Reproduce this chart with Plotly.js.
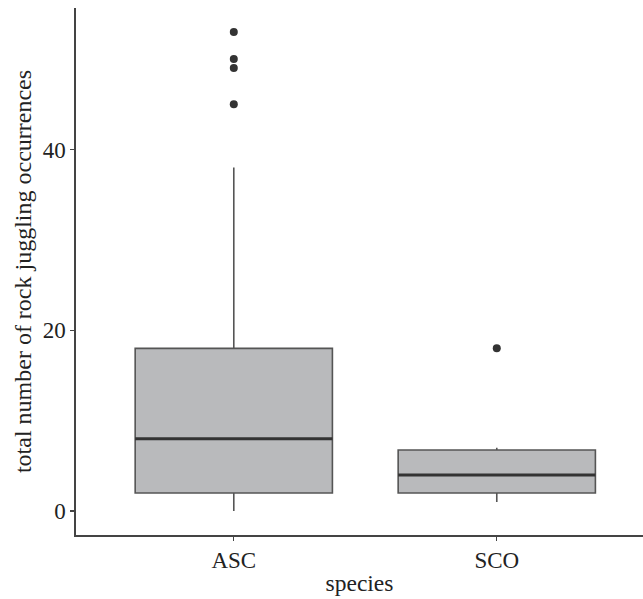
<!DOCTYPE html>
<html>
<head>
<meta charset="utf-8">
<script src="https://cdn.plot.ly/plotly-3.0.1.min.js"></script>
<style>html,body{margin:0;padding:0;background:#fff;}#chart{width:643px;height:599px;}</style>
</head>
<body>
<div id="chart"></div>
<script>
const species = ["ASC", "SCO"];
const lowerFence = [0, 1];
const q1 = [2, 2];
const medians = [8, 4];
const q3 = [18, 6.75];
const upperFence = [38, 7];
const outlierSpecies = ["ASC", "ASC", "ASC", "ASC", "SCO"];
const outlierValues = [45, 49, 50, 53, 18];
const yTicks = [0, 20, 40];

const boxWidth = 0.75;
const idx = species.map((s, i) => i);

const traces = [{
  type: "box",
  x: idx,
  q1: q1, median: medians, q3: q3,
  lowerfence: lowerFence, upperfence: upperFence,
  width: boxWidth,
  whiskerwidth: 0,
  fillcolor: "#b9babc",
  line: {color: "#555555", width: 1.6},
  boxpoints: false,
  hoverinfo: "skip",
  showlegend: false
}, {
  type: "scatter",
  mode: "markers",
  x: outlierSpecies.map(s => species.indexOf(s)),
  y: outlierValues,
  marker: {color: "#333333", size: 8},
  hoverinfo: "skip",
  showlegend: false
}];

const shapes = idx.map(i => ({
  type: "line", xref: "x", yref: "y",
  x0: i - boxWidth / 2, x1: i + boxWidth / 2,
  y0: medians[i], y1: medians[i],
  line: {color: "#333333", width: 3}
}));

const fam = "Liberation Serif";
const mk = s => ({family: fam, size: s, color: "#222222"});

const layout = {
  width: 643, height: 599,
  margin: {l: 76, r: 0, t: 8, b: 64},
  paper_bgcolor: "#ffffff", plot_bgcolor: "#ffffff",
  font: mk(23),
  shapes: shapes,
  xaxis: {
    range: [-0.6, 1.556],
    tickvals: idx, ticktext: species,
    showgrid: false, zeroline: false,
    showline: true, linecolor: "#444444", linewidth: 1.6,
    ticks: "outside", ticklen: 4, tickcolor: "#444444", tickwidth: 1.2,
    tickfont: mk(23),
    title: {text: "species", font: mk(23.5), standoff: 2}
  },
  yaxis: {
    range: [-2.65, 55.65],
    tickvals: yTicks,
    showgrid: false, zeroline: false,
    showline: true, linecolor: "#444444", linewidth: 1.6,
    ticks: "outside", ticklen: 4, tickcolor: "#444444", tickwidth: 1.2,
    tickfont: mk(23),
    title: {text: "total number of rock juggling occurrences", font: mk(24), standoff: 4}
  }
};

Plotly.newPlot("chart", traces, layout, {displayModeBar: false, staticPlot: true});
</script>
</body>
</html>
